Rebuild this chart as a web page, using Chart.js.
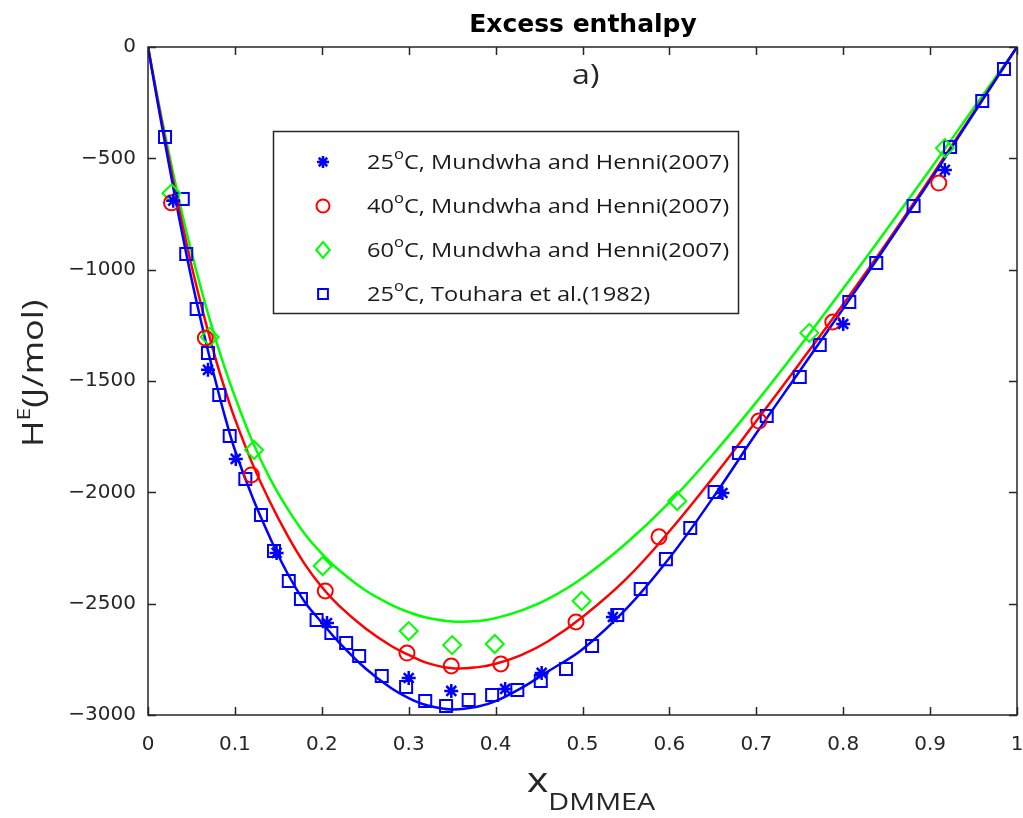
<!DOCTYPE html>
<html>
<head>
<meta charset="utf-8">
<script src="https://cdn.jsdelivr.net/npm/chart.js@4.4.0/dist/chart.umd.min.js"></script>
<style>
  html, body { margin: 0; padding: 0; background: #fff; }
</style>
</head>
<body>
<canvas id="heChart" width="1023" height="818"></canvas>
<script>
// fitted curves
const curveX = [0, 0.01, 0.02, 0.03, 0.04, 0.05, 0.06, 0.07, 0.08, 0.09, 0.10, 0.12, 0.14, 0.16, 0.18, 0.20, 0.22, 0.25, 0.28, 0.30, 0.32, 0.35, 0.38, 0.40, 0.43, 0.46, 0.50, 0.55, 0.60, 0.65, 0.70, 0.75, 0.80, 0.85, 0.90, 0.95, 1]
const fit25 = [0, -225, -440, -650, -850, -1040, -1215, -1380, -1535, -1680, -1810, -2020, -2200, -2360, -2490, -2585, -2675, -2790, -2880, -2924, -2955, -2975, -2962, -2938, -2878, -2805, -2705, -2525, -2295, -2025, -1735, -1455, -1175, -890, -600, -300, 0]
const fit40 = [0, -215, -420, -620, -805, -980, -1140, -1290, -1430, -1555, -1670, -1870, -2040, -2190, -2320, -2425, -2510, -2610, -2690, -2730, -2765, -2790, -2785, -2770, -2730, -2670, -2560, -2390, -2175, -1935, -1680, -1420, -1155, -880, -590, -295, 0]
const fit60 = [0, -205, -400, -585, -760, -920, -1070, -1210, -1340, -1460, -1570, -1770, -1935, -2070, -2185, -2275, -2350, -2440, -2505, -2538, -2562, -2580, -2578, -2565, -2530, -2480, -2385, -2230, -2045, -1830, -1595, -1345, -1085, -820, -550, -275, 0]

// 25 C, Mundwha and Henni (2007)
const mh25X = [0.029, 0.069, 0.101, 0.148, 0.206, 0.300, 0.349, 0.411, 0.453, 0.535, 0.661, 0.800, 0.917]
const mh25Y = [-690, -1450, -1850, -2272, -2587, -2834, -2892, -2883, -2811, -2560, -2003, -1244, -552]
// 40 C
const mh40X = [0.027, 0.066, 0.119, 0.204, 0.298, 0.349, 0.406, 0.4925, 0.588, 0.703, 0.788, 0.910]
const mh40Y = [-700, -1307, -1922, -2443, -2722, -2780, -2771, -2582, -2200, -1680, -1235, -611]
// 60 C
const mh60X = [0.027, 0.071, 0.122, 0.201, 0.300, 0.350, 0.399, 0.499, 0.609, 0.761, 0.917]
const mh60Y = [-657, -1302, -1810, -2331, -2623, -2686, -2681, -2488, -2039, -1284, -454]
// 25 C, Touhara et al. (1982)
const thX = [0.0196, 0.040, 0.044, 0.056, 0.069, 0.082, 0.094, 0.112, 0.130, 0.145, 0.162, 0.176, 0.194, 0.211, 0.228, 0.243, 0.269, 0.297, 0.319, 0.343, 0.369, 0.396, 0.425, 0.452, 0.481, 0.511, 0.540, 0.567, 0.596, 0.624, 0.652, 0.680, 0.712, 0.750, 0.773, 0.807, 0.838, 0.881, 0.923, 0.960, 0.985]
const thY = [-404, -683, -930, -1177, -1374, -1563, -1747, -1940, -2102, -2263, -2398, -2479, -2573, -2632, -2677, -2735, -2825, -2874, -2937, -2960, -2933, -2910, -2888, -2847, -2793, -2690, -2551, -2434, -2300, -2160, -1999, -1823, -1657, -1482, -1338, -1145, -970, -714, -449, -243, -99]

const xTickLabels = ['0', '0.1', '0.2', '0.3', '0.4', '0.5', '0.6', '0.7', '0.8', '0.9', '1']
const yTickLabels = ['\u22123000', '\u22122500', '\u22122000', '\u22121500', '\u22121000', '\u2212500', '0']

const legendTemps = ['25', '40', '60', '25']
const legendSources = ['Mundwha and Henni(2007)', 'Mundwha and Henni(2007)', 'Mundwha and Henni(2007)', 'Touhara et al.(1982)']

const BLUE = '#0000ff'
const RED = '#ff0000'
const GREEN = '#00ff00'
const AXIS = '#262626'

const pts = (xs, ys) => xs.map((x, i) => ({ x: x, y: ys[i] }))

function markerSet(label, xs, ys, color, style, radius, width) {
  return {
    label: label,
    data: pts(xs, ys),
    showLine: false,
    pointStyle: style,
    pointRadius: radius,
    pointBorderColor: color,
    pointBackgroundColor: 'rgba(0,0,0,0)',
    pointBorderWidth: width,
    order: 1
  }
}

function curveSet(label, ys, color) {
  return {
    label: label,
    data: pts(curveX, ys),
    showLine: true,
    borderColor: color,
    borderWidth: 2.5,
    pointRadius: 0,
    tension: 0.4,
    order: 2
  }
}

// marker drawing for the legend box
function drawMarker(ctx, style, x, y, r, color) {
  ctx.save()
  ctx.strokeStyle = color
  ctx.lineWidth = 2
  ctx.beginPath()
  if (style === 'circle') {
    ctx.arc(x, y, r, 0, Math.PI * 2)
  } else if (style === 'rect') {
    ctx.rect(x - r * 0.7, y - r * 0.7, r * 1.4, r * 1.4)
  } else if (style === 'rectRot') {
    ctx.moveTo(x, y - r); ctx.lineTo(x + r * 0.85, y); ctx.lineTo(x, y + r); ctx.lineTo(x - r * 0.85, y); ctx.closePath()
  } else if (style === 'star') {
    ctx.lineWidth = 2.5
    for (let k = 0; k < 4; k++) {
      const a = k * Math.PI / 4
      ctx.moveTo(x - Math.cos(a) * r, y - Math.sin(a) * r)
      ctx.lineTo(x + Math.cos(a) * r, y + Math.sin(a) * r)
    }
  }
  ctx.stroke()
  ctx.restore()
}

// text pieces drawn one after another, with optional vertical shift and horizontal stretch
function drawParts(ctx, parts, x, y, sx) {
  let cx = x
  parts.forEach(p => {
    ctx.font = p.font
    ctx.save()
    ctx.translate(cx, y + (p.dy || 0))
    ctx.scale(sx, 1)
    ctx.fillText(p.t, 0, 0)
    ctx.restore()
    cx += ctx.measureText(p.t).width * sx
  })
  return cx
}

const frame = {
  id: 'frame',
  afterDraw(chart) {
    const { ctx, chartArea: a, scales } = chart
    const xs = scales.x, ys = scales.y
    ctx.save()
    ctx.strokeStyle = AXIS
    ctx.lineWidth = 1.5
    ctx.strokeRect(a.left, a.top, a.right - a.left, a.bottom - a.top)
    ctx.beginPath()
    xs.ticks.forEach(t => {
      const px = Math.round(xs.getPixelForValue(t.value)) + 0.5
      ctx.moveTo(px, a.bottom); ctx.lineTo(px, a.bottom - 8)
      ctx.moveTo(px, a.top); ctx.lineTo(px, a.top + 8)
    })
    ys.ticks.forEach(t => {
      const py = Math.round(ys.getPixelForValue(t.value)) + 0.5
      ctx.moveTo(a.left, py); ctx.lineTo(a.left + 8, py)
      ctx.moveTo(a.right, py); ctx.lineTo(a.right - 8, py)
    })
    ctx.stroke()

    ctx.fillStyle = '#000'
    ctx.textBaseline = 'alphabetic'
    // title
    ctx.font = 'bold 25px "DejaVu Sans"'
    ctx.textAlign = 'center'
    ctx.fillText('Excess enthalpy', 583, 32)
    ctx.textAlign = 'left'
    ctx.fillStyle = '#262626'
    drawParts(ctx, [{ t: 'a)', font: '28px "Open Sans"' }], 572, 84, 1.15)

    // x axis label
    drawParts(ctx, [
      { t: 'x', font: '34px "Open Sans"' },
      { t: 'DMMEA', font: '24px "Open Sans"', dy: 18 }
    ], 527, 792, 1.2)

    // y axis label
    ctx.save()
    ctx.translate(43, 447)
    ctx.rotate(-Math.PI / 2)
    drawParts(ctx, [
      { t: 'H', font: '30px "Open Sans"' },
      { t: 'E', font: '19px "Open Sans"', dy: -13 },
      { t: '(J/mol)', font: '30px "Open Sans"' }
    ], 0, 0, 1.2)
    ctx.restore()

    // legend
    const lx = 273, ly = 131, lw = 465, lh = 182
    ctx.fillStyle = '#fff'
    ctx.fillRect(lx, ly, lw, lh)
    ctx.strokeStyle = AXIS
    ctx.lineWidth = 1.5
    ctx.strokeRect(lx + 0.5, ly + 0.5, lw, lh)
    const styles = [['star', BLUE, 6], ['circle', RED, 6.5], ['rectRot', GREEN, 8], ['rect', BLUE, 7]]
    legendTemps.forEach((temp, i) => {
      const ry = ly + 31 + i * 44
      drawMarker(ctx, styles[i][0], 323, ry, styles[i][2], styles[i][1])
      ctx.fillStyle = '#1a1a1a'
      drawParts(ctx, [
        { t: temp, font: '20px "Open Sans"' },
        { t: 'o', font: '14px "Open Sans"', dy: -10 },
        { t: 'C, ' + legendSources[i], font: '20px "Open Sans"' }
      ], 367, ry + 7, 1.18)
    })
    ctx.restore()
  }
}

new Chart(document.getElementById('heChart'), {
  type: 'scatter',
  data: {
    datasets: [
      markerSet('25 C, Mundwha and Henni(2007)', mh25X, mh25Y, BLUE, 'star', 7, 2.5),
      markerSet('40 C, Mundwha and Henni(2007)', mh40X, mh40Y, RED, 'circle', 7.5, 2),
      markerSet('60 C, Mundwha and Henni(2007)', mh60X, mh60Y, GREEN, 'rectRot', 9, 2),
      markerSet('25 C, Touhara et al.(1982)', thX, thY, BLUE, 'rect', 8.5, 2),
      curveSet('fit 25 C', fit25, BLUE),
      curveSet('fit 40 C', fit40, RED),
      curveSet('fit 60 C', fit60, GREEN)
    ]
  },
  options: {
    responsive: false,
    animation: false,
    layout: { autoPadding: false, padding: { top: 47, right: 0, left: 0, bottom: 0 } },
    scales: {
      x: {
        type: 'linear',
        min: 0,
        max: 1,
        afterFit: s => { s.height = 103; s.paddingLeft = 0; s.paddingRight = 6 },
        grid: { display: false, drawTicks: false },
        border: { display: false },
        ticks: {
          stepSize: 0.1,
          padding: 18,
          color: AXIS,
          maxRotation: 0,
          font: { size: 20, family: 'DejaVu Sans' },
          callback: (v, i) => xTickLabels[i]
        }
      },
      y: {
        min: -3000,
        max: 0,
        afterFit: s => { s.width = 148 },
        grid: { display: false, drawTicks: false },
        border: { display: false },
        ticks: {
          stepSize: 500,
          padding: 12,
          color: AXIS,
          font: { size: 20, family: 'DejaVu Sans' },
          callback: (v, i) => yTickLabels[i]
        }
      }
    },
    plugins: {
      legend: { display: false },
      tooltip: { enabled: false }
    }
  },
  plugins: [frame]
})
</script>
</body>
</html>
